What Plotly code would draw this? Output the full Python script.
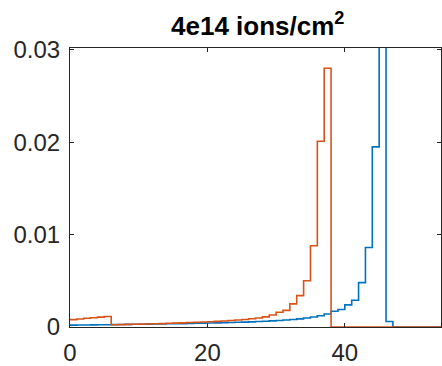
import plotly.graph_objects as go

# bin edges (0..55) and per-bin values
edges = list(range(0, 56))
blue_vals = [0.00020, 0.00021, 0.00022, 0.00023, 0.00024, 0.00025, 0.00026, 0.00027,
             0.00028, 0.00029, 0.00030, 0.00031, 0.00032, 0.00033, 0.00035, 0.00036,
             0.00037, 0.00039, 0.00040, 0.00042, 0.00043, 0.00045, 0.00047, 0.00049,
             0.00051, 0.00053, 0.00056, 0.00059, 0.00062, 0.00066, 0.00070, 0.00075,
             0.00081, 0.00088, 0.00097, 0.00108, 0.00122, 0.00140, 0.0017, 0.0019,
             0.0024, 0.0029, 0.0048, 0.0086, 0.0195, 0.045, 0.0006,
             0, 0, 0, 0, 0, 0, 0, 0]
orange_vals = [0.00080, 0.00087, 0.00094, 0.00100, 0.00107, 0.00114, 0.00025, 0.00026,
               0.00028, 0.00029, 0.00031, 0.00033, 0.00035, 0.00037, 0.00040, 0.00042,
               0.00045, 0.00048, 0.00051, 0.00054, 0.00057, 0.00061, 0.00065, 0.00070,
               0.00075, 0.00081, 0.00089, 0.00098, 0.00110, 0.0013, 0.0016, 0.0018,
               0.0025, 0.0034, 0.0050, 0.0088, 0.0201, 0.0280,
               0, 0, 0, 0, 0, 0, 0, 0, 0, 0, 0, 0, 0, 0, 0, 0, 0]
x_ticks = [0, 20, 40]
y_ticks = [0, 0.01, 0.02, 0.03]
y_tick_text = ["0", "0.01", "0.02", "0.03"]
title_text = "<b>4e14 ions/cm<sup>2</sup></b>"

blue_y = blue_vals + [blue_vals[-1]]
orange_y = orange_vals + [orange_vals[-1]]

fig = go.Figure()
fig.add_trace(go.Scatter(x=edges, y=blue_y, mode="lines", line_shape="hv",
                         line=dict(color="#0072BD", width=1.6), showlegend=False))
fig.add_trace(go.Scatter(x=edges, y=orange_y, mode="lines", line_shape="hv",
                         line=dict(color="#D95319", width=1.6), showlegend=False))

axis_font = dict(family="Liberation Sans, Arial, sans-serif", size=24, color="#262626")
fig.update_layout(
    width=442, height=366,
    margin=dict(l=70, r=0, t=48, b=37),
    paper_bgcolor="white", plot_bgcolor="white",
    showlegend=False,
    annotations=[dict(text=title_text, xref="paper", yref="paper",
                      x=0.505, y=1.0, xanchor="center", yanchor="bottom", yshift=5,
                      showarrow=False,
                      font=dict(family="Liberation Sans, Arial, sans-serif", size=26, color="black"))],
)
fig.update_xaxes(range=[0, 54.0], tickvals=x_ticks, ticks="inside", ticklen=4,
                 tickcolor="#262626", showline=True, linecolor="#262626", linewidth=1,
                 mirror="ticks", showgrid=False, zeroline=False, tickfont=axis_font,
                 ticklabelstandoff=4)
fig.update_yaxes(range=[0, 0.0302], tickvals=y_ticks, ticktext=y_tick_text,
                 ticks="inside", ticklen=4, tickcolor="#262626", showline=True,
                 linecolor="#262626", linewidth=1, mirror="ticks", showgrid=False,
                 zeroline=False, tickfont=axis_font, ticklabelstandoff=4)

fig.write_html("out.html")
